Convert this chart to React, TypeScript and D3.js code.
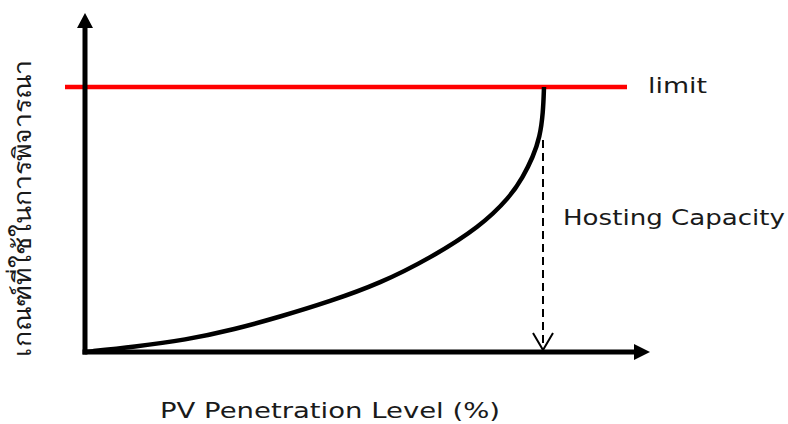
import * as d3 from "d3";

// PV penetration (% of hosting capacity) vs. criterion value (% of limit)
const penetration = [0, 10.9, 21.8, 32.7, 42.5, 53.4, 64.3, 75.2, 86.1, 92.6, 95.4, 97.6, 99.1, 99.8, 100];
const criterion = [0, 2.0, 4.5, 8.6, 13.3, 19.1, 25.9, 35.4, 47.3, 58.5, 66, 73.6, 81.1, 90.2, 100];
const limitValue = 100;
const hostingCapacity = 100;

const xLabel = "PV Penetration Level (%)";
const yLabel = "เกณฑ์ที่ใช้ในการพิจารณา";
const limitLabel = "limit";
const hcLabel = "Hosting Capacity";

const W = 788;
const H = 424;
const FONT = "'DejaVu Sans', 'Noto Sans', sans-serif";

export default function App() {
  const x = d3.scaleLinear().domain([0, 100]).range([85, 544]);
  const y = d3.scaleLinear().domain([0, 100]).range([352, 87]);

  const x0 = x(0);
  const y0 = y(0);
  const xEnd = 650;
  const yEnd = 13;

  const pts = penetration.map((p, i) => [p, criterion[i]] as [number, number]);
  const line = d3
    .line<[number, number]>()
    .x((d) => x(d[0]))
    .y((d) => y(d[1]))
    .curve(d3.curveBasis);

  const hcX = x(hostingCapacity) - 1;
  const dashTop = y(80);

  return (
    <svg
      width={W}
      height={H}
      style={{ position: "absolute", left: 0, top: 0, background: "#fff" }}
    >
      {/* limit line */}
      <line x1={65} x2={627} y1={y(limitValue)} y2={y(limitValue)} stroke="#ff0000" strokeWidth={4.5} />

      {/* axes */}
      <line x1={x0} x2={x0} y1={y0 + 2.5} y2={yEnd + 12} stroke="#000" strokeWidth={5} />
      <path d={`M${x0 - 8},${yEnd + 15} L${x0},${yEnd} L${x0 + 8},${yEnd + 15} Z`} fill="#000" />
      <line x1={x0 - 2.5} x2={xEnd - 12} y1={y0} y2={y0} stroke="#000" strokeWidth={5} />
      <path d={`M${xEnd - 16},${y0 - 8} L${xEnd},${y0} L${xEnd - 16},${y0 + 8} Z`} fill="#000" />

      {/* curve */}
      <path d={line(pts) || ""} fill="none" stroke="#000" strokeWidth={4.5} />

      {/* hosting capacity arrow */}
      <line x1={hcX} x2={hcX} y1={dashTop} y2={y0 - 3} stroke="#000" strokeWidth={2} strokeDasharray="8,5" />
      <path
        d={`M${hcX - 10},${y0 - 19} L${hcX},${y0 - 2} L${hcX + 10},${y0 - 19}`}
        fill="none"
        stroke="#000"
        strokeWidth={2}
      />

      {/* labels */}
      <text x={648} y={93} fontFamily={FONT} fontSize={22} fill="#1a1a1a" textLength={59} lengthAdjust="spacingAndGlyphs">
        {limitLabel}
      </text>
      <text x={563} y={225} fontFamily={FONT} fontSize={22} fill="#1a1a1a" textLength={222} lengthAdjust="spacingAndGlyphs">
        {hcLabel}
      </text>
      <text x={160} y={418} fontFamily={FONT} fontSize={22} fill="#1a1a1a" textLength={340} lengthAdjust="spacingAndGlyphs">
        {xLabel}
      </text>
      <text
        transform="translate(31,357) rotate(-90)"
        fontFamily={FONT}
        fontSize={25}
        fill="#1a1a1a"
        textLength={297}
        lengthAdjust="spacingAndGlyphs"
      >
        {yLabel}
      </text>
    </svg>
  );
}
